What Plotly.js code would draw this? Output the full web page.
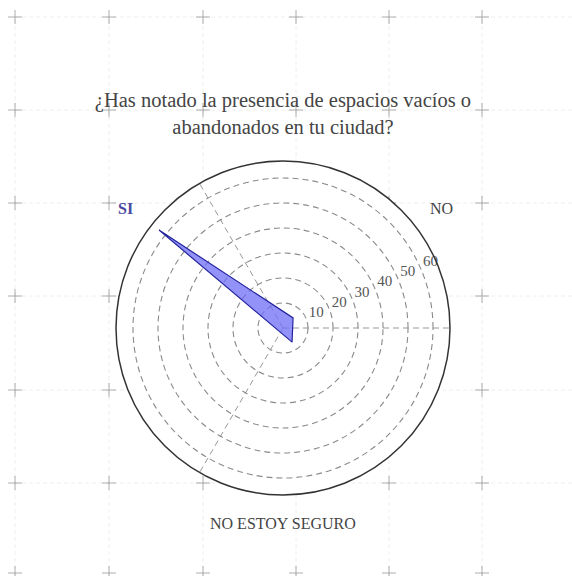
<!DOCTYPE html>
<html>
<head>
<meta charset="utf-8">
<script src="https://cdn.plot.ly/plotly-3.0.1.min.js"></script>
<style>html,body{margin:0;padding:0;background:#fff;}#chart{width:572px;height:576px;}</style>
</head>
<body>
<div id="chart"></div>
<script>
// ---- data ----
const categories = ["SI", "NO", "NO ESTOY SEGURO"];
const values = [63.2, 5.7, 6.7];
const pointAngles = [141.7, 45, 302.7];
const gridAngles = [0, 120, 240];
const radialTicks = [10, 20, 30, 40, 50, 60];
const radialTickLabels = ["10", "20", "30", "40", "50", "60"];
const titleText = "¿Has notado la presencia de espacios vacíos o<br>abandonados en tu ciudad?";

const W = 572, H = 576;
const px = x => x / W;
const py = y => 1 - y / H;
const SERIF = "Liberation Serif, Times New Roman, serif";

// background page grid (decorative)
const gridX = [15, 109, 203, 296, 389, 482];
const gridY = [17, 110, 203, 296, 390, 483];
const shapes = [];
gridX.forEach(x => shapes.push({type:'line', layer:'below', xref:'paper', yref:'paper',
  x0:px(x), x1:px(x), y0:0, y1:py(17), line:{color:'#eeeeee', width:1, dash:'4px,3px'}}));
gridY.forEach(y => shapes.push({type:'line', layer:'below', xref:'paper', yref:'paper',
  x0:px(15), x1:1, y0:py(y), y1:py(y), line:{color:'#eeeeee', width:1, dash:'4px,3px'}}));
gridX.forEach(x => [...gridY, 573].forEach(y => {
  shapes.push({type:'line', layer:'below', xref:'paper', yref:'paper',
    x0:px(x-7), x1:px(x+7), y0:py(y), y1:py(y), line:{color:'#9a9a9a', width:0.8}});
  shapes.push({type:'line', layer:'below', xref:'paper', yref:'paper',
    x0:px(x), x1:px(x), y0:py(y-7), y1:py(y+7), line:{color:'#9a9a9a', width:0.8}});
}));

const rMax = 66.8;

const traces = [
  {
    type: 'scatterpolar',
    r: [...values, values[0]],
    theta: [...pointAngles, pointAngles[0]],
    mode: 'lines',
    fill: 'toself',
    fillcolor: 'rgba(110,110,245,0.75)',
    line: {color: '#2424a0', width: 1.2},
    hoverinfo: 'skip',
    showlegend: false
  },
  {
    type: 'scatterpolar',
    r: radialTicks.map(v => v + 4.6),
    theta: radialTicks.map(() => 24),
    mode: 'text',
    text: radialTickLabels,
    textfont: {family: SERIF, size: 15, color: '#555'},
    textposition: 'middle center',
    hoverinfo: 'skip',
    showlegend: false
  }
];

const labelPos = [
  {x: 125, y: 208, color: '#4a4aa0', bold: true},
  {x: 441, y: 208, color: '#444', bold: false},
  {x: 283, y: 523, color: '#444', bold: false}
];
const annotations = categories.map((c, i) => ({
  text: labelPos[i].bold ? '<b>' + c + '</b>' : c,
  xref: 'paper', yref: 'paper', x: px(labelPos[i].x), y: py(labelPos[i].y),
  xanchor: 'center', yanchor: 'middle', showarrow: false,
  font: {family: SERIF, size: 16, color: labelPos[i].color}
}));

const layout = {
  width: W, height: H,
  margin: {l: 0, r: 0, t: 0, b: 0},
  paper_bgcolor: '#fff',
  showlegend: false,
  title: {
    text: titleText,
    x: px(283), xanchor: 'center',
    y: py(107), yanchor: 'middle',
    font: {family: SERIF, size: 20.5, color: '#444'}
  },
  polar: {
    domain: {x: [px(116), px(450)], y: [py(495), py(161)]},
    bgcolor: '#fff',
    radialaxis: {
      range: [0, rMax], tickvals: radialTicks, showticklabels: false,
      showline: false, ticks: '', angle: 22.5,
      gridcolor: '#8a8a8a', griddash: '6px,4px', gridwidth: 1.1
    },
    angularaxis: {
      thetaunit: 'degrees', rotation: 0, direction: 'counterclockwise',
      tickvals: gridAngles, showticklabels: false, ticks: '',
      gridcolor: '#999', griddash: '6px,4px', gridwidth: 1,
      showline: true, linecolor: '#333', linewidth: 1.5
    }
  },
  shapes: shapes,
  annotations: annotations
};

Plotly.newPlot('chart', traces, layout, {staticPlot: true, displayModeBar: false});
</script>
</body>
</html>
